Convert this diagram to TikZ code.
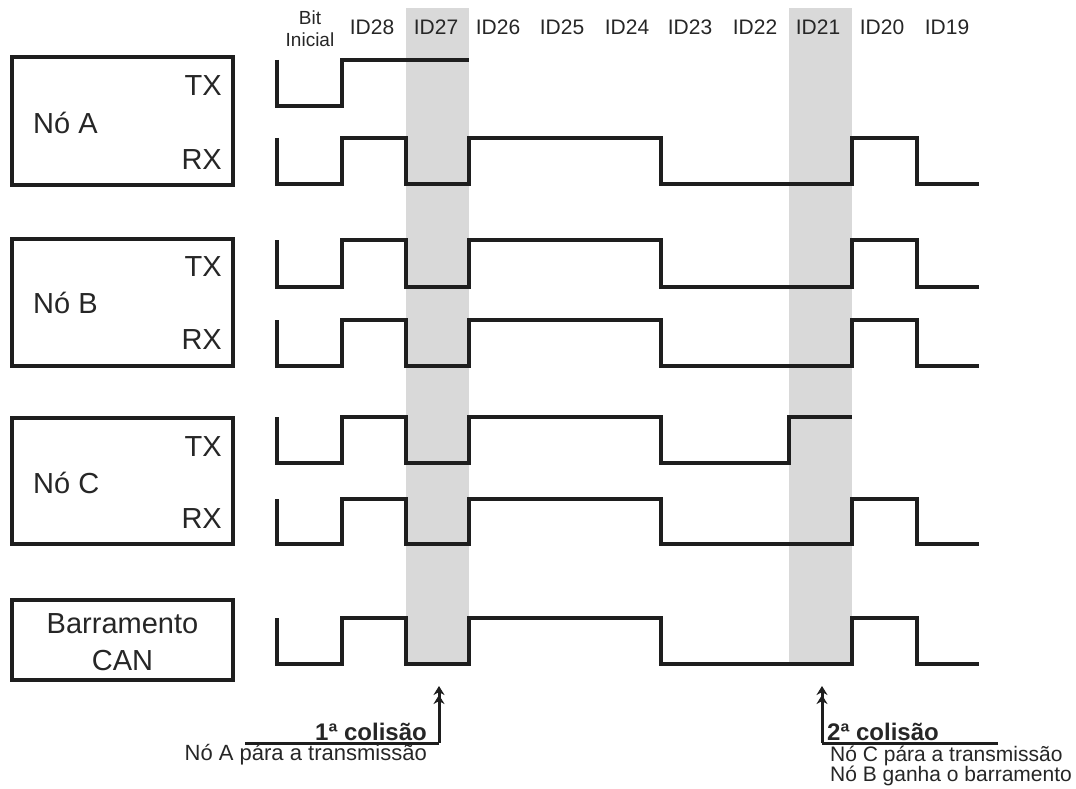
\documentclass[tikz,border=0pt]{standalone}
\usepackage{fontspec}
\setmainfont{Liberation Sans}
\usetikzlibrary{arrows.meta}
\definecolor{ink}{HTML}{1E1E1E}
\definecolor{txt}{HTML}{262626}
\definecolor{collgray}{HTML}{D9D9D9}
\newcommand\mywave[2]{%
  \draw[sig] (277,#1)--(277,#2)--(342,#2)--(342,#1)--(406,#1)--(406,#2)--(469,#2)--(469,#1)--(661,#1)--(661,#2)--(852,#2)--(852,#1)--(917,#1)--(917,#2)--(979,#2);}
\begin{document}
\begin{tikzpicture}[x=1pt,y=-1pt,
  sig/.style={draw=ink,line width=4pt,line join=miter},
  nodebox/.style={draw=ink,line width=4pt,inner sep=0pt,minimum width=221pt},
  hdr/.style={text=txt,inner sep=0pt,anchor=base,font=\fontsize{21}{22}\selectfont},
  lbl/.style={text=txt,inner sep=0pt,font=\fontsize{29}{32}\selectfont},
  coll/.style={text=txt,inner sep=0pt,font=\bfseries\fontsize{24}{26}\selectfont},
  note/.style={text=txt,inner sep=0pt,font=\fontsize{21}{24}\selectfont},
  pointer/.style={draw=ink,line width=3pt,-{Stealth[length=9pt,width=11pt]Stealth[length=9pt,width=11pt]}},
  uline/.style={draw=ink,line width=3pt}]
\useasboundingbox (0,0) rectangle (1076,789);
% shaded collision bits
\fill[collgray] (406,8) rectangle (469,666);
\fill[collgray] (789,8) rectangle (852,666);
% header
\node[hdr,font=\fontsize{19}{22}\selectfont,align=center,anchor=base] (bit) at (310,47) {Bit\\Inicial};
\node[hdr] (id28) at (372,35) {ID28};
\node[hdr] (id27) at (436,35) {ID27};
\node[hdr] (id26) at (498,35) {ID26};
\node[hdr] (id25) at (562,35) {ID25};
\node[hdr] (id24) at (627,35) {ID24};
\node[hdr] (id23) at (690,35) {ID23};
\node[hdr] (id22) at (755,35) {ID22};
\node[hdr] (id21) at (818,35) {ID21};
\node[hdr] (id20) at (882,35) {ID20};
\node[hdr] (id19) at (947,35) {ID19};
% boxes
\node[nodebox,minimum height=128pt] (boxA) at (122.5,121) {};
\node[nodebox,minimum height=127pt] (boxB) at (122.5,302.5) {};
\node[nodebox,minimum height=126pt] (boxC) at (122.5,481) {};
\node[nodebox,minimum height=80pt] (boxCAN) at (122.5,640) {};
\node[lbl,anchor=base west] (nA) at (33,133.3) {Nó A};
\node[lbl,anchor=base east] (txA) at (222,96) {TX};
\node[lbl,anchor=base east] (rxA) at (222,169) {RX};
\node[lbl,anchor=base west] (nB) at (33,313.3) {Nó B};
\node[lbl,anchor=base east] (txB) at (222,276.7) {TX};
\node[lbl,anchor=base east] (rxB) at (222,349.3) {RX};
\node[lbl,anchor=base west] (nC) at (33,493.3) {Nó C};
\node[lbl,anchor=base east] (txC) at (222,456) {TX};
\node[lbl,anchor=base east] (rxC) at (222,528.3) {RX};
\node[lbl,anchor=base] (bar) at (122.5,633) {Barramento};
\node[lbl,anchor=base] (can) at (122.5,670) {CAN};
% signals
\draw[sig] (277,60)--(277,106)--(342,106)--(342,60)--(469,60);
\mywave{138}{184}
\mywave{240}{287}
\mywave{320}{366}
\draw[sig] (277,417)--(277,463)--(342,463)--(342,417)--(406,417)--(406,463)--(469,463)--(469,417)--(661,417)--(661,463)--(789,463)--(789,417)--(852,417);
\mywave{499}{544}
\mywave{618}{664}
% collisions
\coordinate (c1s) at (245,743);
\coordinate (c1k) at (439,743);
\coordinate (c1t) at (439,686);
\draw[uline] (c1s) -- (c1k);
\draw[pointer] (c1k) -- (c1t);
\node[coll,anchor=base west] (col1) at (315,740) {1ª colisão};
\node[note,anchor=base east,font=\fontsize{22}{24}\selectfont] (n1) at (427,760.5) {Nó A pára a transmissão};
\coordinate (c2e) at (998,743);
\coordinate (c2k) at (822,743);
\coordinate (c2t) at (822,686);
\draw[uline] (c2e) -- (c2k);
\draw[pointer] (c2k) -- (c2t);
\node[coll,anchor=base west] (col2) at (827,740) {2ª colisão};
\node[note,anchor=base west] (n2) at (830,761.5) {Nó C pára a transmissão};
\node[note,anchor=base west] (n3) at (830,781.5) {Nó B ganha o barramento};
\end{tikzpicture}
\end{document}
